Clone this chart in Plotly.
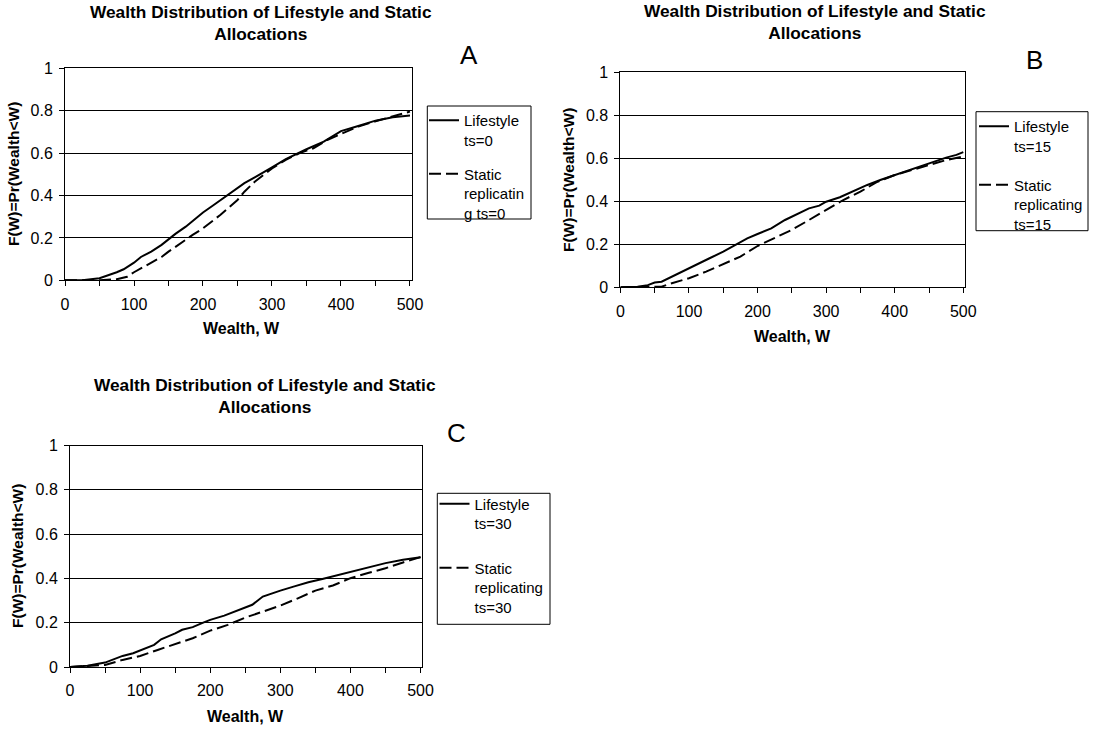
import plotly.graph_objects as go

# ---------------- data ----------------
# Panel A  (ts = 0)
A_life_w = [0, 25, 50, 65, 75, 85, 100, 110, 125, 140, 150, 160, 175, 190, 200, 215, 230, 240, 250, 260,
            275, 290, 300, 320, 340, 350, 375, 390, 400, 425, 450, 475, 500]
A_life_f = [0, 0, 0.01, 0.025, 0.038, 0.052, 0.083, 0.11, 0.135, 0.167, 0.195, 0.219, 0.253, 0.292, 0.32,
            0.354, 0.39, 0.41, 0.434, 0.458, 0.486, 0.513, 0.533, 0.572, 0.604, 0.618, 0.654, 0.686, 0.704,
            0.728, 0.753, 0.769, 0.777]
A_stat_w = [0, 50, 75, 90, 100, 115, 125, 140, 150, 170, 185, 200, 225, 250, 260, 275, 290, 300, 320, 340,
            360, 380, 400, 425, 450, 475, 500]
A_stat_f = [0, 0, 0.005, 0.017, 0.038, 0.064, 0.08, 0.11, 0.135, 0.182, 0.214, 0.245, 0.308, 0.379, 0.418,
            0.465, 0.505, 0.528, 0.568, 0.6, 0.623, 0.662, 0.69, 0.725, 0.75, 0.772, 0.796]

# Panel B  (ts = 15)
B_life_w = [0, 25, 40, 50, 60, 70, 80, 100, 120, 130, 150, 170, 185, 200, 220, 240, 260, 275, 290, 300,
            320, 340, 360, 380, 400, 425, 450, 475, 490, 500]
B_life_f = [0, 0.003, 0.01, 0.022, 0.026, 0.042, 0.057, 0.088, 0.12, 0.135, 0.166, 0.2, 0.228, 0.248, 0.274,
            0.313, 0.344, 0.367, 0.38, 0.398, 0.419, 0.448, 0.476, 0.5, 0.522, 0.546, 0.574, 0.603, 0.616,
            0.629]
B_stat_w = [0, 60, 75, 100, 125, 150, 175, 200, 225, 250, 275, 300, 325, 350, 375, 400, 425, 450, 475, 500]
B_stat_f = [0, 0.003, 0.019, 0.042, 0.073, 0.109, 0.143, 0.192, 0.228, 0.267, 0.313, 0.36, 0.406, 0.445,
            0.491, 0.522, 0.546, 0.569, 0.592, 0.608]

# Panel C  (ts = 30)
C_life_w = [0, 25, 50, 60, 75, 90, 100, 110, 120, 130, 140, 150, 160, 175, 190, 200, 220, 240, 260, 275,
            290, 300, 320, 340, 360, 375, 400, 425, 450, 475, 500]
C_life_f = [0, 0.006, 0.02, 0.032, 0.05, 0.062, 0.074, 0.089, 0.1, 0.125, 0.137, 0.152, 0.168, 0.18, 0.2,
            0.213, 0.232, 0.255, 0.281, 0.318, 0.336, 0.345, 0.364, 0.383, 0.397, 0.409, 0.427, 0.449,
            0.469, 0.484, 0.496]
C_stat_w = [0, 50, 75, 100, 125, 150, 175, 200, 225, 250, 275, 300, 325, 350, 375, 400, 425, 450, 475, 500]
C_stat_f = [0, 0.009, 0.032, 0.05, 0.077, 0.104, 0.13, 0.164, 0.19, 0.223, 0.25, 0.277, 0.31, 0.345, 0.368,
            0.401, 0.424, 0.446, 0.472, 0.496]

x_tickvals = [0, 50, 100, 150, 200, 250, 300, 350, 400, 450, 500]
x_ticktext = ["0", "", "100", "", "200", "", "300", "", "400", "", "500"]
y_tickvals = [0, 0.2, 0.4, 0.6, 0.8, 1]
y_ticktext = ["0", "0.2", "0.4", "0.6", "0.8", "1"]

title_text = "Wealth Distribution of Lifestyle and Static<br>Allocations"
y_title = "F(W)=Pr(Wealth<W)"
x_title = "Wealth, W"

# ---------------- layout helpers ----------------
W, H = 1094, 733
FONT = "Liberation Sans, Arial, sans-serif"


def px(x):
    return x / W


def py(y):
    return 1 - y / H


panels = [
    dict(letter="A", xa="x", ya="y", leg="legend", box=(65, 411.7, 68.3, 280.3),
         series=[(A_life_w, A_life_f, "Lifestyle<br>ts=0", "solid"),
                 (A_stat_w, A_stat_f, "Static<br>replicatin<br>g ts=0", "12px,5px")],
         legxy=(424, 104), leggap=11.5, legbox=(427.3, 531, 106, 219),
         title=(261, 22.5), letterpos=(469, 55), ytitle=(14, 174), xtitle=(241, 328)),
    dict(letter="B", xa="x2", ya="y2", leg="legend2", box=(620.4, 965, 72.3, 287.3),
         series=[(B_life_w, B_life_f, "Lifestyle<br>ts=15", "solid"),
                 (B_stat_w, B_stat_f, "Static<br>replicating<br>ts=15", "12px,5px")],
         legxy=(974, 110), leggap=16.5, legbox=(976, 1088, 111.7, 230.7),
         title=(815, 21.5), letterpos=(1034, 60), ytitle=(569, 180), xtitle=(792, 336)),
    dict(letter="C", xa="x3", ya="y3", leg="legend3", box=(70, 422.3, 445.5, 667),
         series=[(C_life_w, C_life_f, "Lifestyle<br>ts=30", "solid"),
                 (C_stat_w, C_stat_f, "Static<br>replicating<br>ts=30", "12px,5px")],
         legxy=(434.5, 487.5), leggap=22, legbox=(437.3, 550, 493.3, 624.3),
         title=(265, 396), letterpos=(456, 433), ytitle=(17, 556), xtitle=(246, 716)),
]

fig = go.Figure()
annotations = []
shapes = []
layout_axes = {}

for i, p in enumerate(panels):
    for (wx, fy, name, dash) in p["series"]:
        fig.add_trace(go.Scatter(
            x=wx, y=fy, mode="lines", name=name,
            line=dict(color="black", width=2, dash=dash),
            xaxis=p["xa"], yaxis=p["ya"], legend=p["leg"],
            legendgroup=name, showlegend=True, hoverinfo="skip"))

    x0, x1, y0, y1 = p["box"]
    xkey = "xaxis" if p["xa"] == "x" else "xaxis" + p["xa"][1:]
    ykey = "yaxis" if p["ya"] == "y" else "yaxis" + p["ya"][1:]
    layout_axes[xkey] = dict(
        domain=[px(x0), px(x1)], anchor=p["ya"], range=[0, 502.5],
        tickmode="array", tickvals=x_tickvals, ticktext=x_ticktext,
        ticks="outside", ticklen=5, tickwidth=1, tickcolor="black",
        showline=True, linecolor="black", linewidth=1, mirror=True,
        showgrid=False, zeroline=False, ticklabelstandoff=4, automargin=False,
        tickfont=dict(family=FONT, size=16, color="black"))
    layout_axes[ykey] = dict(
        domain=[py(y1), py(y0)], anchor=p["xa"], range=[0, 1],
        tickmode="array", tickvals=y_tickvals, ticktext=y_ticktext,
        ticks="outside", ticklen=5, tickwidth=1, tickcolor="black",
        showline=True, linecolor="black", linewidth=1, mirror=True,
        showgrid=True, gridcolor="black", gridwidth=1, zeroline=False,
        ticklabelstandoff=3, automargin=False,
        tickfont=dict(family=FONT, size=16, color="black"))

    # legend: plotly legend for symbols + text, framed by a drawn box
    lgx, lgy = p["legxy"]
    fig.layout[p["leg"]] = dict(
        x=px(lgx), y=py(lgy), xanchor="left", yanchor="top",
        bgcolor="rgba(0,0,0,0)", borderwidth=0,
        font=dict(family=FONT, size=15, color="black"),
        valign="top", tracegroupgap=p["leggap"], itemwidth=30)
    bx0, bx1, by0, by1 = p["legbox"]
    shapes.append(dict(type="rect", xref="paper", yref="paper",
                       x0=px(bx0), x1=px(bx1), y0=py(by1), y1=py(by0),
                       line=dict(color="black", width=1), fillcolor="rgba(0,0,0,0)", layer="above"))

    tx, ty = p["title"]
    annotations.append(dict(text="<b>" + title_text + "</b>", x=px(tx), y=py(ty), xref="paper", yref="paper",
                            xanchor="center", yanchor="middle", showarrow=False,
                            font=dict(family=FONT, size=17.3, color="black")))
    lx2, ly2 = p["letterpos"]
    annotations.append(dict(text=p["letter"], x=px(lx2), y=py(ly2), xref="paper", yref="paper",
                            xanchor="center", yanchor="middle", showarrow=False,
                            font=dict(family=FONT, size=26, color="black")))
    yx, yy = p["ytitle"]
    annotations.append(dict(text="<b>" + y_title + "</b>", x=px(yx), y=py(yy), xref="paper", yref="paper",
                            xanchor="center", yanchor="middle", showarrow=False, textangle=-90,
                            font=dict(family=FONT, size=15.5, color="black")))
    xx, xy = p["xtitle"]
    annotations.append(dict(text="<b>" + x_title + "</b>", x=px(xx), y=py(xy), xref="paper", yref="paper",
                            xanchor="center", yanchor="middle", showarrow=False,
                            font=dict(family=FONT, size=16, color="black")))

fig.update_layout(
    width=W, height=H, margin=dict(l=0, r=0, t=0, b=0, pad=0, autoexpand=False),
    paper_bgcolor="white", plot_bgcolor="white",
    font=dict(family=FONT, size=16, color="black"),
    annotations=annotations, shapes=shapes, **layout_axes)

page_fix = (
    "var d=document.documentElement, b=document.body;"
    "d.style.margin='0'; d.style.padding='0'; d.style.overflow='hidden';"
    "b.style.margin='0'; b.style.padding='0'; b.style.overflow='hidden';"
)
fig.write_html("out.html", config={"displayModeBar": False, "responsive": False}, post_script=page_fix)
